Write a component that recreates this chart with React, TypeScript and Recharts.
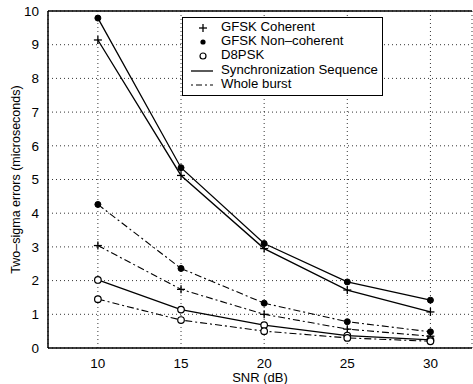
import React from 'react';
import { LineChart, Line, XAxis, YAxis, CartesianGrid, ReferenceLine } from 'recharts';

const snr = [10, 15, 20, 25, 30];
const gfskCohSync = [9.14, 5.12, 2.95, 1.72, 1.07];
const gfskNonSync = [9.79, 5.35, 3.1, 1.96, 1.42];
const gfskCohBurst = [3.04, 1.74, 1.0, 0.56, 0.35];
const gfskNonBurst = [4.26, 2.36, 1.33, 0.78, 0.48];
const d8Sync = [2.02, 1.14, 0.68, 0.37, 0.24];
const d8Burst = [1.45, 0.83, 0.5, 0.3, 0.2];
const xTicks = [10, 15, 20, 25, 30];
const yTicks = [0, 1, 2, 3, 4, 5, 6, 7, 8, 9, 10];
const legendLabels = ['GFSK Coherent', 'GFSK Non\u2013coherent', 'D8PSK', 'Synchronization Sequence', 'Whole burst'];
const legendKinds = ['plus', 'star', 'circ', 'solid', 'dash'];

const data = snr.map((s, i) => ({
  snr: s,
  cohSync: gfskCohSync[i],
  nonSync: gfskNonSync[i],
  cohBurst: gfskCohBurst[i],
  nonBurst: gfskNonBurst[i],
  d8Sync: d8Sync[i],
  d8Burst: d8Burst[i],
}));

const FONT = '"Liberation Sans", Arial, Helvetica, sans-serif';
const DASHDOT = '7 3 2 3';

const PlusDot = (p: any) => {
  const { cx, cy } = p;
  if (cx == null || cy == null) return null;
  return (
    <g>
      <line x1={cx - 4} y1={cy} x2={cx + 4} y2={cy} stroke="#000" strokeWidth={1.3} />
      <line x1={cx} y1={cy - 4} x2={cx} y2={cy + 4} stroke="#000" strokeWidth={1.3} />
    </g>
  );
};
const StarDot = (p: any) => {
  const { cx, cy } = p;
  if (cx == null || cy == null) return null;
  return <circle cx={cx} cy={cy} r={3} fill="#000" stroke="#000" />;
};
const CircDot = (p: any) => {
  const { cx, cy } = p;
  if (cx == null || cy == null) return null;
  return <circle cx={cx} cy={cy} r={3.3} fill="#fff" stroke="#000" strokeWidth={1.2} />;
};

const LegendBox = () => (
  <div
    style={{
      position: 'absolute',
      left: 182,
      top: 17,
      width: 201,
      height: 79,
      border: '1px solid #000',
      background: '#fff',
      boxSizing: 'border-box',
      fontFamily: FONT,
      fontSize: 13.2,
      color: '#000',
    }}
  >
    {legendLabels.map((label, i) => {
      const kind = legendKinds[i];
      return (
        <div key={i} style={{ position: 'absolute', left: 0, top: 3 + i * 14.2, height: 14, width: 199 }}>
          <svg width={34} height={14} style={{ position: 'absolute', left: 0, top: 0 }}>
            {kind === 'plus' && (
              <g>
                <line x1={16} y1={7} x2={24} y2={7} stroke="#000" strokeWidth={1.3} />
                <line x1={20} y1={3} x2={20} y2={11} stroke="#000" strokeWidth={1.3} />
              </g>
            )}
            {kind === 'star' && <circle cx={20} cy={7} r={2.6} fill="#000" />}
            {kind === 'circ' && <circle cx={20} cy={7} r={3} fill="#fff" stroke="#000" strokeWidth={1.2} />}
            {kind === 'solid' && <line x1={8} y1={7} x2={30} y2={7} stroke="#000" strokeWidth={1.3} />}
            {kind === 'dash' && (
              <line x1={8} y1={7} x2={30} y2={7} stroke="#000" strokeWidth={1.1} strokeDasharray="2 3 6 3" />
            )}
          </svg>
          <span style={{ position: 'absolute', left: 38, top: -1, lineHeight: '14px', whiteSpace: 'nowrap' }}>
            {label}
          </span>
        </div>
      );
    })}
  </div>
);

export default function App() {
  return (
    <div style={{ position: 'absolute', left: 0, top: 0, width: 473, height: 384, background: '#fff' }}>
      <LineChart
        width={473}
        height={384}
        data={data}
        margin={{ top: 11, right: 1, bottom: 12, left: 8 }}
        style={{ fontFamily: FONT }}
      >
        <CartesianGrid stroke="#000" strokeDasharray="1 3" strokeWidth={0.8} vertical horizontal />
        <XAxis
          dataKey="snr"
          type="number"
          domain={[7, 32.5]}
          ticks={xTicks}
          allowDataOverflow
          stroke="#000"
          strokeWidth={1.5}
          tickLine={false}
          tick={{ fill: '#000', fontSize: 13.5, fontFamily: FONT }}
          tickMargin={4}
          height={24}
          label={{ value: 'SNR (dB)', position: 'insideBottom', offset: -10, fill: '#000', fontSize: 13, fontFamily: FONT }}
        />
        <YAxis
          type="number"
          domain={[0, 10]}
          ticks={yTicks}
          interval={0}
          stroke="#000"
          strokeWidth={1.5}
          tickLine={false}
          tick={{ fill: '#000', fontSize: 13.5, fontFamily: FONT }}
          tickMargin={3}
          width={40}
          label={{
            value: 'Two\u2013sigma errors (microseconds)',
            angle: -90,
            position: 'insideLeft',
            offset: 8,
            style: { textAnchor: 'middle' },
            fill: '#000',
            fontSize: 12.5,
            fontFamily: FONT,
          }}
        />
        <ReferenceLine y={10} stroke="#000" strokeWidth={1.3} />
        <Line dataKey="nonSync" stroke="#000" strokeWidth={1.3} dot={<StarDot />} isAnimationActive={false} />
        <Line dataKey="cohSync" stroke="#000" strokeWidth={1.3} dot={<PlusDot />} isAnimationActive={false} />
        <Line dataKey="nonBurst" stroke="#000" strokeWidth={1.1} strokeDasharray={DASHDOT} dot={<StarDot />} isAnimationActive={false} />
        <Line dataKey="cohBurst" stroke="#000" strokeWidth={1.1} strokeDasharray={DASHDOT} dot={<PlusDot />} isAnimationActive={false} />
        <Line dataKey="d8Sync" stroke="#000" strokeWidth={1.3} dot={<CircDot />} isAnimationActive={false} />
        <Line dataKey="d8Burst" stroke="#000" strokeWidth={1.1} strokeDasharray={DASHDOT} dot={<CircDot />} isAnimationActive={false} />
      </LineChart>
      <LegendBox />
    </div>
  );
}
